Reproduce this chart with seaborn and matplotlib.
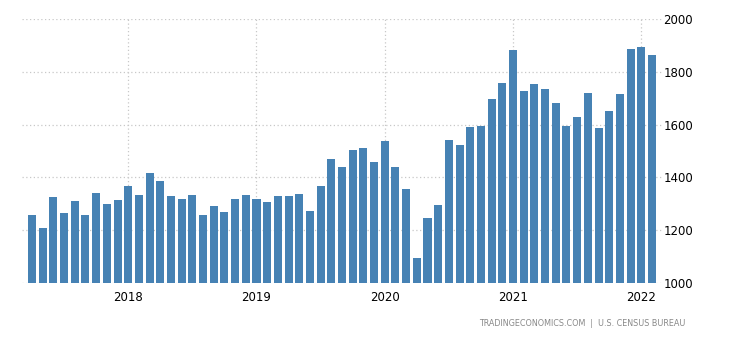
import matplotlib
matplotlib.use("Agg")
import matplotlib.pyplot as plt
import seaborn as sns
import pandas as pd

months = pd.date_range("2017-04-01", "2022-02-01", freq="MS")
values = [
    1258, 1208, 1326, 1265, 1311, 1258, 1341, 1299, 1314,              # 2017 Apr-Dec
    1367, 1333, 1417, 1386, 1330, 1318, 1333, 1258, 1292, 1269, 1318, 1333,  # 2018
    1318, 1307, 1330, 1330, 1337, 1273, 1367, 1470, 1439, 1504, 1511, 1458,  # 2019
    1538, 1439, 1356, 1095, 1246, 1295, 1542, 1523, 1591, 1595, 1697, 1758,  # 2020
    1883, 1727, 1754, 1735, 1682, 1595, 1629, 1720, 1587, 1652, 1716, 1886,  # 2021
    1894, 1864,                                                          # 2022
]
y_ticks = [1000, 1200, 1400, 1600, 1800, 2000]
source_text = "TRADINGECONOMICS.COM  |  U.S. CENSUS BUREAU"

df = pd.DataFrame({"month": months.strftime("%Y-%m"), "value": values})

sns.set_theme(style="white")
plt.rcParams["font.family"] = ["DejaVu Sans"]

fig = plt.figure(figsize=(7.3, 3.4), dpi=100)
ax = fig.add_axes([22 / 730, 1 - 283 / 340, 640 / 730, 264 / 340])

sns.barplot(data=df, x="month", y="value", color="#4682b4", saturation=1,
            width=0.75, linewidth=0, edgecolor="none", ax=ax, zorder=2)

ax.set_ylim(1000, 2000)
ax.set_xlim(-0.94, len(values) - 1 + 0.94)
ax.set_yticks(y_ticks)
ax.yaxis.tick_right()
ax.tick_params(axis="y", length=0, pad=1, labelsize=8.5, colors="black")

jan_idx = [i for i, m in enumerate(months) if m.month == 1]
ax.set_xticks(jan_idx)
ax.set_xticklabels([str(months[i].year) for i in jan_idx])
ax.tick_params(axis="x", length=4, width=0.8, pad=2, labelsize=8.5,
               colors="#bbbbbb", labelcolor="black")

ax.grid(True, axis="both", color="#c8c8c8", linestyle=(0, (1, 2)), linewidth=0.9, zorder=0)
ax.set_axisbelow(True)
for s in ax.spines.values():
    s.set_visible(False)
ax.set_xlabel("")
ax.set_ylabel("")

fig.text(685 / 730, 1 - 324 / 340, source_text, ha="right", va="center",
         fontsize=5.8, color="#888888")

fig.savefig("out.png", dpi=100)
